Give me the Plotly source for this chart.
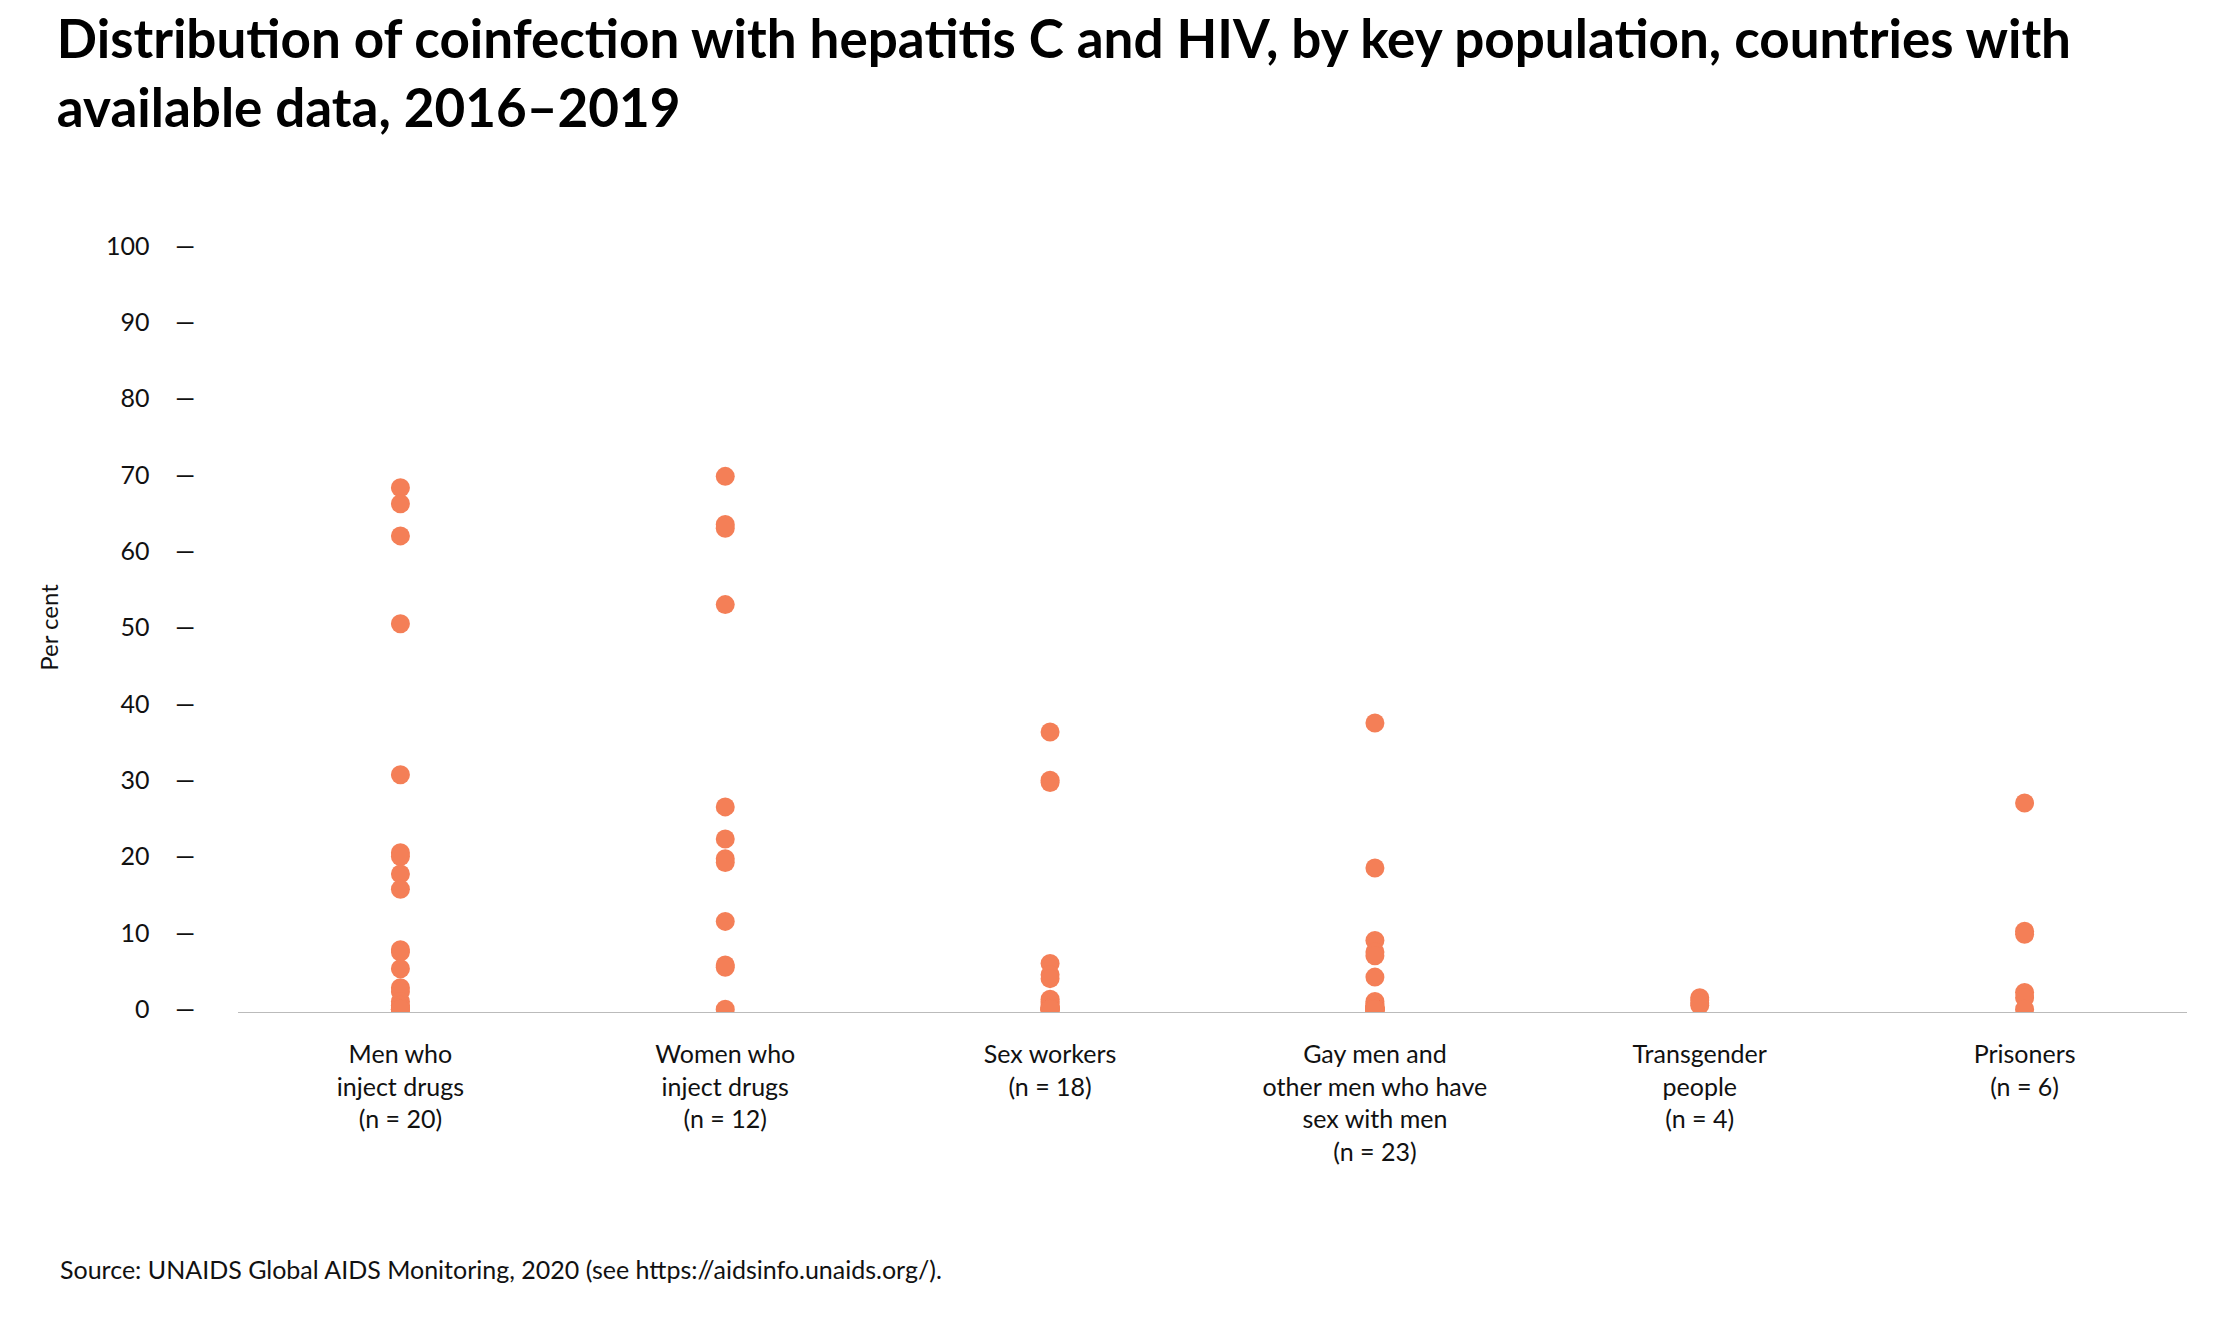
import plotly.graph_objects as go

categories = ["Men who<br>inject drugs<br>(n = 20)", "Women who<br>inject drugs<br>(n = 12)", "Sex workers<br>(n = 18)",
              "Gay men and<br>other men who have<br>sex with men<br>(n = 23)", "Transgender<br>people<br>(n = 4)", "Prisoners<br>(n = 6)"]
men_idu = [68.3, 66.2, 62, 50.5, 30.7, 20.5, 20, 17.7, 15.7, 7.8, 7.5, 5.3, 2.8, 2.3, 1, 0.5, 0.2, 0, 0, 0]
women_idu = [69.8, 63.5, 63, 53, 26.5, 22.3, 19.7, 19.2, 11.5, 5.8, 5.5, 0]
sex_workers = [36.3, 30, 29.7, 6, 4.5, 4, 1.3, 1, 0.8, 0.5, 0.3, 0.2, 0.1, 0, 0, 0, 0, 0]
msm = [37.5, 18.5, 9, 7.5, 7, 4.2, 1, 0.7, 0.5, 0.3, 0.2, 0.1] + [0] * 11
transgender = [1.5, 1.2, 0.8, 0.5]
prisoners = [27, 10.2, 9.8, 2.2, 1.5, 0]
series = [men_idu, women_idu, sex_workers, msm, transgender, prisoners]
tick_vals = [0, 10, 20, 30, 40, 50, 60, 70, 80, 90, 100]

xs, ys = [], []
for i, s in enumerate(series):
    xs += [i] * len(s)
    ys += s

fig = go.Figure(go.Scatter(x=xs, y=ys, mode="markers",
                           marker=dict(color="#F47F57", size=19, line=dict(width=0)),
                           hoverinfo="y"))

L = 230
fig.update_layout(
    width=2219, height=1320, plot_bgcolor="white", paper_bgcolor="white",
    margin=dict(l=L, r=40, t=234, b=315),
    font=dict(family="Lato", color="#111"),
    showlegend=False,
    title=dict(text="<b>Distribution of coinfection with hepatitis C and HIV, by key population, countries with<br>available data, 2016–2019</b>",
               x=0.022, xanchor="left", y=0.962, yanchor="top", font=dict(size=53, color="black")),
    xaxis=dict(range=[-0.5, 5.5], tickvals=list(range(6)), ticktext=categories, showgrid=False,
               zeroline=False, showline=False, ticks="", tickfont=dict(size=25), ticklabelstandoff=24),
    yaxis=dict(range=[-0.5, 100.5], tickvals=tick_vals, ticktext=[f"{v}    —" for v in tick_vals],
               showgrid=False, zeroline=False, showline=False, ticks="", tickfont=dict(size=25),
               ticklabelstandoff=42,
               title=dict(text="Per cent", font=dict(size=24), standoff=40)),
    shapes=[dict(type="line", xref="paper", yref="y", x0=0, x1=1, y0=-0.5, y1=-0.5,
                 line=dict(color="#BBBBBB", width=2))],
    annotations=[dict(text="Source: UNAIDS Global AIDS Monitoring, 2020 (see https://aidsinfo.unaids.org/).",
                      xref="paper", yref="paper", x=-(L - 50) / (2219 - L - 40), y=-0.31,
                      xanchor="left", yanchor="top", showarrow=False, font=dict(size=25))],
)
fig.write_html("out.html")
